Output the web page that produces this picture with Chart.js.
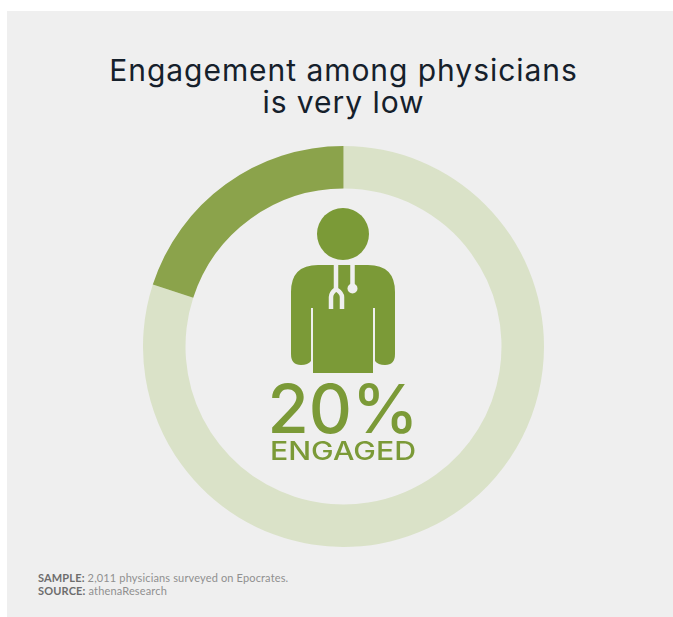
<!DOCTYPE html>
<html>
<head>
<meta charset="utf-8">
<style>
  html, body { margin: 0; padding: 0; background: #fff; }
  #panel { position: absolute; left: 7px; top: 11px; width: 666px; height: 606px; background: #efefef; }
  #wrap { position: absolute; left: 143px; top: 146px; width: 401px; height: 401px; }
  .txt { position: absolute; white-space: nowrap; font-family: Inter, sans-serif; }
  #title { left: 0; width: 687px; top: 54px; text-align: center; font-size: 30px; line-height: 32px; color: #15202b; letter-spacing: 0.95px; }
  #pct { left: 0; width: 686px; top: 369px; text-align: center; font-size: 67px; line-height: 80px; font-weight: 500; color: #7b9a37; }
  #lab { left: 0; width: 686px; top: 434px; text-align: center; font-size: 25px; line-height: 34px; font-weight: 500; color: #7b9a37; transform: scaleX(1.21); }
  #foot { left: 38px; top: 571px; font-family: Lato, sans-serif; font-size: 11px; line-height: 13px; color: #8f8f8f; letter-spacing: 0.15px; }
  #foot b { color: #6d6d6d; }
</style>
</head>
<body>
<div id="panel"></div>
<div class="txt" id="title">Engagement among physicians<br>is very low</div>
<div id="wrap"><canvas id="myChart" width="401" height="401"></canvas></div>
<div class="txt" id="pct"></div>
<div class="txt" id="lab"></div>
<div class="txt" id="foot"><b>SAMPLE:</b> 2,011 physicians surveyed on Epocrates.<br><b>SOURCE:</b> athenaResearch</div>

<script src="https://cdn.jsdelivr.net/npm/chart.js@4"></script>
<script>
const categories = ['Not engaged', 'Engaged'];
const percentages = [80, 20];
const sliceColors = ['#dae2c8', '#8ba34b'];

document.getElementById('pct').textContent = percentages[1] + '%';
document.getElementById('lab').textContent = categories[1].toUpperCase();

// physician icon in the hole of the ring
const physicianIcon = {
  id: 'physicianIcon',
  afterDraw(chart) {
    const ctx = chart.ctx;
    const green = '#7b9a37';
    const paper = '#efefef';
    ctx.save();
    ctx.translate(-143, -145); // page pixels, one down to sit under the ring top

    ctx.fillStyle = green;
    ctx.beginPath();
    ctx.arc(343, 233, 26, 0, Math.PI * 2);
    ctx.fill();

    // shoulders, arms and torso
    ctx.beginPath();
    ctx.moveTo(318, 264);
    ctx.lineTo(368, 264);
    ctx.quadraticCurveTo(395, 264, 395, 291);
    ctx.lineTo(395, 353);
    ctx.quadraticCurveTo(395, 364, 385, 364);
    ctx.quadraticCurveTo(378, 364, 375, 360);
    ctx.lineTo(375, 307);
    ctx.lineTo(373, 307);
    ctx.lineTo(373, 372);
    ctx.lineTo(313, 372);
    ctx.lineTo(313, 307);
    ctx.lineTo(311, 307);
    ctx.lineTo(311, 360);
    ctx.quadraticCurveTo(308, 364, 301, 364);
    ctx.quadraticCurveTo(291, 364, 291, 353);
    ctx.lineTo(291, 291);
    ctx.quadraticCurveTo(291, 264, 318, 264);
    ctx.closePath();
    ctx.fill();

    // stethoscope
    ctx.strokeStyle = paper;
    ctx.fillStyle = paper;
    ctx.lineWidth = 4.5;
    ctx.lineCap = 'butt';
    ctx.beginPath();
    ctx.moveTo(336, 264);
    ctx.lineTo(336, 288);
    ctx.moveTo(331, 308);
    ctx.lineTo(331, 296);
    ctx.quadraticCurveTo(331, 292, 336, 288);
    ctx.quadraticCurveTo(342, 292, 342, 296);
    ctx.lineTo(342, 308);
    ctx.moveTo(352.5, 264);
    ctx.lineTo(352.5, 286);
    ctx.stroke();
    ctx.beginPath();
    ctx.arc(352.5, 287.5, 5, 0, Math.PI * 2);
    ctx.fill();
    ctx.restore();
  }
};

new Chart(document.getElementById('myChart').getContext('2d'), {
  type: 'doughnut',
  data: {
    labels: categories,
    datasets: [{
      data: percentages,
      backgroundColor: sliceColors,
      borderWidth: 0
    }]
  },
  options: {
    responsive: false,
    animation: false,
    cutout: 158,
    plugins: {
      legend: { display: false },
      tooltip: { enabled: false }
    }
  },
  plugins: [physicianIcon]
});
</script>
</body>
</html>
